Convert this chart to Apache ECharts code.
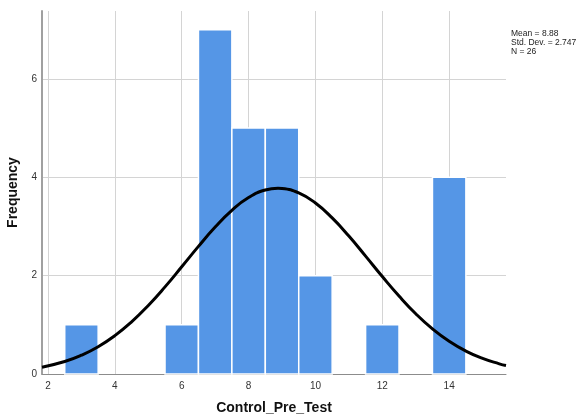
<!DOCTYPE html>
<html><head><meta charset="utf-8">
<script src="https://cdn.jsdelivr.net/npm/echarts@6/dist/echarts.min.js"></script>
<style>html,body{margin:0;padding:0;background:#fff}#c{width:579px;height:416px}</style>
</head><body><div id="c"></div>
<script>
// Histogram bins (bin centers, width 1) and counts
const binCenters = [3, 6, 7, 8, 9, 10, 12, 14];
const counts = [1, 1, 7, 5, 5, 2, 1, 4];
// Fitted normal curve
const curveX = [1.82, 2.5, 3, 3.5, 4, 4.5, 5, 5.5, 6, 6.5, 7, 7.5, 8, 8.5, 8.88, 9, 9.5, 10, 10.5, 11, 11.5, 12, 12.5, 13, 13.5, 14, 14.5, 15, 15.5, 15.7];
const curveY = [0.139, 0.254, 0.382, 0.555, 0.780, 1.060, 1.393, 1.771, 2.180, 2.595, 2.988, 3.329, 3.587, 3.740, 3.776, 3.772, 3.681, 3.475, 3.173, 2.804, 2.396, 1.981, 1.585, 1.226, 0.918, 0.665, 0.466, 0.316, 0.207, 0.173];
const statsLines = ['Mean = 8.88', 'Std. Dev. = 2.747', 'N = 26'];

const gridC = '#d4d4d4';
const chart = echarts.init(document.getElementById('c'), null, {renderer: 'canvas'});
chart.setOption({
  animation: false,
  textStyle: {fontFamily: 'Liberation Sans, Arial, sans-serif'},
  grid: {left: 42, top: 11, right: 73, bottom: 42, containLabel: false, outerBoundsMode: 'none'},
  xAxis: {
    type: 'value', min: 1.82, max: 15.7, splitNumber: 6,
    name: 'Control_Pre_Test', nameLocation: 'middle', nameGap: 27,
    nameTextStyle: {fontSize: 14, fontWeight: 'bold', color: '#111'},
    axisLine: {show: true, lineStyle: {color: '#8c8c8c', width: 1}},
    axisTick: {show: false},
    axisLabel: {showMinLabel: false, showMaxLabel: false, fontSize: 10, color: '#333', margin: 7},
    splitLine: {show: true, lineStyle: {color: ['transparent', gridC, gridC, gridC, gridC, gridC, gridC, gridC, 'transparent'], width: 1}}
  },
  yAxis: {
    type: 'value', min: 0, max: 7.38, interval: 2,
    name: 'Frequency', nameLocation: 'middle', nameGap: 19,
    nameTextStyle: {fontSize: 14, fontWeight: 'bold', color: '#111'},
    axisLine: {show: true, lineStyle: {color: '#a0a0a0', width: 2}},
    axisTick: {show: false},
    axisLabel: {showMaxLabel: false, fontSize: 10, color: '#333', margin: 5},
    splitLine: {show: true, lineStyle: {color: ['transparent', gridC, gridC, gridC, 'transparent'], width: 1}}
  },
  series: [
    {
      type: 'custom',
      data: binCenters.map((c, i) => [c, counts[i]]),
      encode: {x: 0, y: 1},
      renderItem: function (params, api) {
        const c = api.value(0), n = api.value(1);
        const p0 = api.coord([c - 0.5, n]);
        const p1 = api.coord([c + 0.5, 0]);
        return {
          type: 'rect',
          shape: {x: p0[0], y: p0[1], width: p1[0] - p0[0], height: p1[1] - p0[1]},
          style: {fill: '#5596e6', stroke: '#ffffff', lineWidth: 1.5}
        };
      },
      z: 2
    },
    {
      type: 'line', smooth: true, symbol: 'none',
      data: curveX.map((x, i) => [x, curveY[i]]),
      lineStyle: {color: '#000', width: 3},
      z: 3
    }
  ],
  graphic: statsLines.map((t, i) => ({
    type: 'text', left: 511, top: 29 + i * 9,
    style: {text: t, fontSize: 8.5, fill: '#222', fontFamily: 'Liberation Sans, Arial, sans-serif'}
  }))
});
</script></body></html>
